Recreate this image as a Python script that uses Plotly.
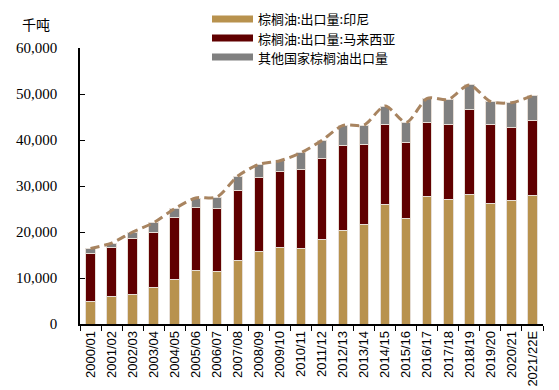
import plotly.graph_objects as go

categories = ["2000/01", "2001/02", "2002/03", "2003/04", "2004/05", "2005/06", "2006/07",
              "2007/08", "2008/09", "2009/10", "2010/11", "2011/12", "2012/13", "2013/14",
              "2014/15", "2015/16", "2016/17", "2017/18", "2018/19", "2019/20", "2020/21",
              "2021/22E"]
indonesia = [4850, 5930, 6440, 7890, 9630, 11740, 11370, 13910, 15870, 16590, 16370,
             18400, 20350, 21650, 25930, 22890, 27670, 26960, 28260, 26300, 26800, 28040]
malaysia = [10430, 10810, 12040, 12110, 13550, 13610, 13700, 15070, 15930, 16520, 17170,
            17600, 18480, 17330, 17400, 16520, 16240, 16370, 18330, 17030, 15870, 16160]
others = [1150, 860, 1520, 2020, 1890, 2040, 2530, 3190, 2900, 2390, 3700,
          3920, 4350, 4280, 4060, 4420, 5130, 5500, 5370, 5060, 5440, 5430]
totals = [a + b + c for a, b, c in zip(indonesia, malaysia, others)]

names = ["棕榈油:出口量:印尼", "棕榈油:出口量:马来西亚", "其他国家棕榈油出口量"]
colors = ["#B8924E", "#600000", "#808080"]

W, H = 559, 390
ML, MR, MT, MB = 72, 24, 40, 74
PW, PH = W - ML - MR, H - MT - MB


def px_to_paper(px, py):
    return (px - ML) / PW, (H - MB - py) / PH


fig = go.Figure()
for vals, name, col in zip([indonesia, malaysia, others], names, colors):
    fig.add_trace(go.Bar(x=categories, y=vals, name=name, marker_color=col,
                         marker_line=dict(color="#E6DED6", width=1),
                         width=0.45, showlegend=False))

fig.add_trace(go.Scatter(x=categories, y=totals, mode="lines",
                         line=dict(color="#A88460", width=3, dash="9px,5px", shape="spline",
                                   smoothing=0.8),
                         showlegend=False, hoverinfo="skip"))

# manual legend (wide swatches)
LEG_FONT = 13
ROW = 19
shapes = []
annotations = []
for i, (name, col) in enumerate(zip(names, colors)):
    cy = 11 + ROW * i
    x0, y0 = px_to_paper(204, cy - 3.4)
    x1, y1 = px_to_paper(245, cy + 3.4)
    shapes.append(dict(type="rect", xref="paper", yref="paper", x0=x0, x1=x1, y0=y1, y1=y0,
                       fillcolor=col, line=dict(width=0), layer="above"))
    tx, ty = px_to_paper(249, cy)
    annotations.append(dict(text=name, xref="paper", yref="paper", x=tx, y=ty,
                            xanchor="left", yanchor="middle", showarrow=False, borderpad=0,
                            font=dict(size=LEG_FONT, family="Noto Sans CJK SC", color="#000")))

ax, ay = px_to_paper(12, 16)
annotations.append(dict(text="千吨", xref="paper", yref="paper", x=ax, y=ay,
                        xanchor="left", yanchor="middle", showarrow=False,
                        font=dict(size=14, family="Noto Sans CJK SC", color="#000")))

fig.update_layout(
    width=W, height=H,
    margin=dict(l=ML, r=MR, t=MT, b=MB, autoexpand=False),
    barmode="stack",
    plot_bgcolor="white", paper_bgcolor="white",
    font=dict(family="Noto Sans CJK SC", color="#000"),
    showlegend=False,
    shapes=shapes,
    annotations=annotations,
)

fig.update_xaxes(type="category", showline=True, linecolor="#000", linewidth=1.5,
                 ticks="outside", tickson="boundaries", ticklen=5, tickcolor="#000",
                 tickangle=-90, tickfont=dict(family="Liberation Sans", size=13, color="#000"),
                 showgrid=False, range=[-0.5, 21.5])
fig.update_yaxes(range=[0, 60000], tickvals=[0, 10000, 20000, 30000, 40000, 50000, 60000],
                 tickformat=",d", showline=True, linecolor="#000", linewidth=1.5,
                 ticks="inside", ticklen=5, tickcolor="#000", showgrid=False,
                 ticklabelstandoff=18, zeroline=False,
                 tickfont=dict(family="Liberation Serif", size=15, color="#000"))

fig.write_html("out.html")
